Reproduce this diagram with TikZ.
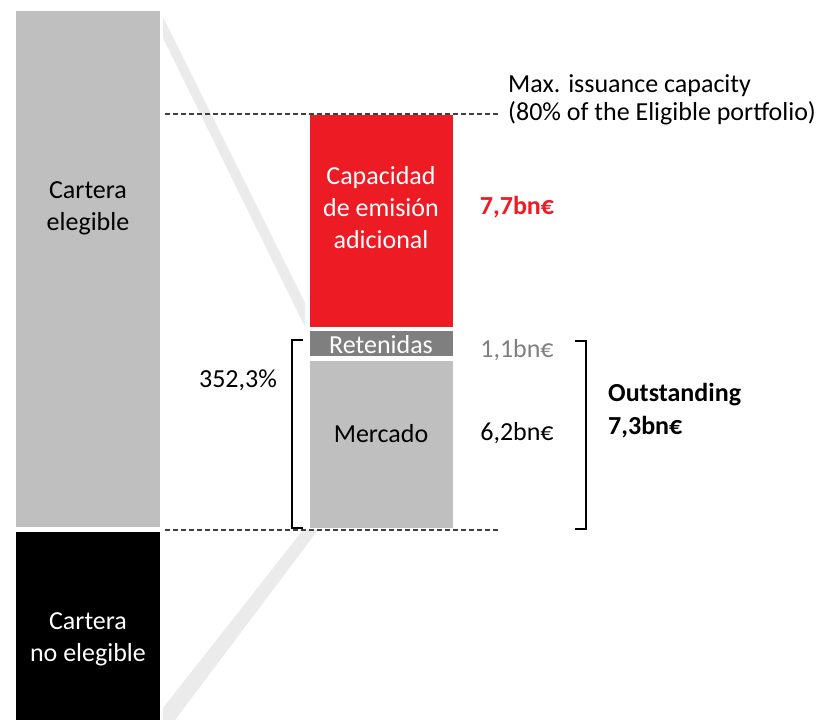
\documentclass[tikz,border=0pt]{standalone}
\usepackage{fontspec}
\setmainfont{Carlito}
\usetikzlibrary{positioning,calc}
\definecolor{barred}{HTML}{ED1C24}
\definecolor{barlight}{HTML}{BFBFBF}
\definecolor{bardark}{HTML}{7F7F7F}
\definecolor{bandgray}{HTML}{EBEBEB}
\definecolor{guidegray}{HTML}{404040}

\begin{document}
\begin{tikzpicture}
            [
            x=1pt, y=1pt,
            portfolio/.style={rectangle, inner sep=0pt, outer sep=0pt,
                minimum width=144pt},
            tranche/.style={rectangle, inner sep=0pt, outer sep=0pt,
                minimum width=143pt},
            boxtext/.style={inner sep=0pt, align=center,
                font=\fontsize{26}{32}\selectfont},
            amount/.style={inner sep=0pt, font=\fontsize{26}{32}\selectfont},
            amount bold/.style={inner sep=0pt,
                font=\fontsize{26}{33}\selectfont\bfseries},
            guide line/.style={draw=guidegray, line width=1.5pt,
                dash pattern=on 5pt off 3pt},
            bracket/.style={draw, line width=1.6pt}
            ]

            \useasboundingbox (0,0) rectangle (825,720);

            % zoom bands
            \fill [bandgray] (163,703) -- (305,417) -- (305,393) -- (163,682) -- cycle;
            \fill [bandgray] (303,190) -- (318,190) -- (175,0) -- (163,0) -- (163,12) -- cycle;

            \node (elig) [portfolio, fill=barlight, minimum height=516pt] at (88,451) {};
            \node (noelig) [portfolio, fill=black, minimum height=188pt] at (88,94) {};

            \node (cap) [tranche, fill=barred, minimum height=212pt] at (381,499) {};
            \node (ret) [tranche, fill=bardark, minimum height=25pt, below=4pt of cap] {};
            \node (merc) [tranche, fill=barlight, minimum height=167pt, below=5pt of ret] {};

            \node (eligtxt) [boxtext, yshift=61pt] at (elig) {Cartera\\elegible};
            \node (noeligtxt) [boxtext, text=white, yshift=-13pt] at (noelig) {Cartera\\no elegible};
            \node (captxt) [boxtext, text=white, yshift=13pt] at (cap) {Capacidad\\de emisión\\adicional};
            \node (rettxt) [boxtext, text=white, yshift=-1pt] at (ret) {Retenidas};
            \node (merctxt) [boxtext, yshift=11pt] at (merc) {Mercado};

            \node (v77) [amount bold, text=barred] at (517,513) {7,7bn€};
            \node (v11) [amount, text=bardark] at (517,370) {1,1bn€};
            \node (v62) [amount] at (517,287) {6,2bn€};
            \node (pct) [amount] at (238,340) {352,3\%};
            \node (outst) [amount bold, align=left, anchor=west] at (608,309) {Outstanding\\7,3bn€};
            \node (maxcap) [amount, align=left, anchor=west,
                font=\fontsize{26}{27.5}\selectfont] at (508,620)
                {Max. issuance capacity\\(80\% of the Eligible portfolio)};

            % guides and brackets
            \coordinate (topl) at (165,606);
            \coordinate (topr) at (500,606);
            \coordinate (botl) at (165,190);
            \coordinate (botr) at (500,190);
            \draw [guide line] (topl) -- (topr);
            \draw [guide line] (botl) -- (botr);

            \coordinate (lbt) at (292,380);
            \coordinate (lbb) at (292,192);
            \coordinate (rbt) at (586,379);
            \coordinate (rbb) at (586,191);
            \draw [bracket] ([xshift=11pt]lbt) -- (lbt) -- (lbb) -- ([xshift=11pt]lbb);
            \draw [bracket] ([xshift=-11pt]rbt) -- (rbt) -- (rbb) -- ([xshift=-11pt]rbb);

        \end{tikzpicture}
\end{document}
